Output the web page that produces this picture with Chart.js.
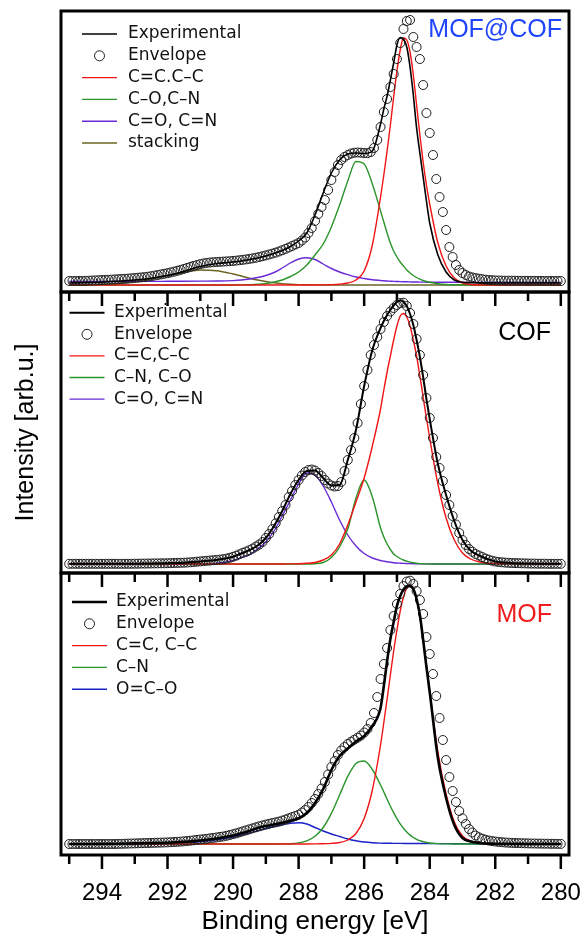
<!DOCTYPE html>
<html>
<head>
<meta charset="utf-8">
<script src="https://cdn.jsdelivr.net/npm/chart.js@4.4.0/dist/chart.umd.min.js"></script>
<style>
html, body { margin: 0; padding: 0; background: #fff; }
#wrap { position: relative; width: 584px; height: 937px; overflow: hidden; }
canvas { position: absolute; left: 0; }
</style>
</head>
<body>
<div id="wrap">
  <canvas id="c1" width="584" height="312" style="top:0px"></canvas>
  <canvas id="c2" width="584" height="313" style="top:280px"></canvas>
  <canvas id="c3" width="584" height="377" style="top:560px"></canvas>
</div>
<script>
// binding energies for the fitted curves (eV)
var lineE = [
  295, 294.5, 294, 293.5, 293, 292.5, 292, 291.5, 291, 290.5,
  290, 289.75, 289.5, 289.25, 289, 288.75, 288.5, 288.25, 288, 287.75,
  287.5, 287.25, 287, 286.75, 286.5, 286.25, 286, 285.75, 285.5, 285.4,
  285.3, 285.2, 285.1, 285, 284.9, 284.8, 284.7, 284.6, 284.5, 284.4,
  284.3, 284.2, 284.1, 284, 283.75, 283.5, 283.25, 283, 282.75, 282.5,
  282, 281.5, 281, 280.5, 280
];

// envelope is sampled every 0.1 eV from 295 down to 280
var envE = [];
for (var i = 0; i <= 150; i++) envE.push(Math.round((295 - i * 0.1) * 10) / 10);

var xTicks = [294, 292, 290, 288, 286, 284, 282, 280];

// ---- MOF@COF ----
var hybExp = [
  2, 2.3, 2.8, 3.8, 5, 6.8, 9.5, 13.5, 18.5, 21.5,
  23, 24, 25.5, 27, 29, 31.5, 34.5, 38.5, 44, 52,
  70, 92, 112, 125, 131, 132, 131.5, 134, 161, 176,
  189, 205, 222, 240, 247.5, 246, 238, 218, 190, 157,
  132, 108, 84, 62, 30, 13, 5, 2.8, 2.3, 2.1,
  2, 2, 2, 2, 2
];
var hybEnv = [
  4, 4, 4, 4, 4, 4.2, 4.3, 4.5, 4.6, 4.8,
  5, 5.1, 5.2, 5.4, 5.6, 5.8, 6, 6.2, 6.4, 6.7,
  7, 7.3, 7.6, 7.9, 8.3, 8.8, 9.4, 10, 10.6, 11.2,
  11.8, 12.6, 13.4, 14.2, 15.1, 16.1, 17.1, 18.1, 19.1, 20,
  20.9, 21.6, 22.1, 22.5, 22.8, 23, 23.2, 23.4, 23.6, 23.8,
  24.1, 24.4, 24.8, 25.2, 25.6, 26.1, 26.7, 27.3, 28, 28.8,
  29.6, 30.5, 31.4, 32.4, 33.5, 34.8, 36.1, 37.5, 39, 40.5,
  42, 44.5, 47.5, 52, 57, 64, 71, 78, 85, 95,
  105, 113, 120, 125, 128, 130, 131.5, 132.3, 132.5, 132.3,
  132, 131.8, 133, 137, 145, 158, 173, 186, 198, 211,
  226, 242, 256, 264, 265, 248, 238, 226, 200, 172,
  152, 130, 106, 88, 73, 55, 38, 28, 20, 15,
  12, 10, 8.5, 7.6, 6.9, 6.3, 5.8, 5.3, 5, 4.8,
  4.6, 4.5, 4.4, 4.3, 4.3, 4.3, 4.3, 4.2, 4.2, 4.2,
  4.2, 4.1, 4.1, 4.1, 4.1, 4, 4, 4, 4, 4,
  4
];
var hybCC = [
  0, 0, 0, 0, 0, 0, 0, 0, 0, 0,
  0, 0, 0, 0, 0, 0, 0, 0, 0, 0,
  0, 0.1, 0.3, 0.8, 2, 5, 14, 40, 88, 110,
  134, 160, 188, 214, 235, 247, 245, 233, 210, 180,
  150, 123, 100, 81, 42, 19, 7, 2, 0.5, 0,
  0, 0, 0, 0, 0
];
var hybCO = [
  0, 0, 0, 0, 0, 0, 0, 0, 0, 0,
  0, 0.1, 0.3, 0.7, 1.5, 3, 5, 8.5, 13, 20,
  30, 41, 58, 80, 104, 123.5, 121, 101, 74, 63,
  52, 42, 34, 28, 23, 19, 15, 12, 9.5, 7.5,
  5.8, 4.5, 3.5, 2.7, 1.3, 0.5, 0.2, 0, 0, 0,
  0, 0, 0, 0, 0
];
var hybCdO = [
  3.5, 3.5, 3.5, 3.5, 3.6, 3.6, 3.7, 3.8, 3.9, 4,
  4.4, 5, 6, 7.5, 9.5, 12.5, 17, 22, 26, 27.3,
  25.5, 21, 16.5, 13, 10.3, 8, 6.5, 5.3, 4.5, 4.2,
  4, 3.8, 3.6, 3.5, 3.4, 3.3, 3.2, 3.1, 3, 3,
  2.9, 2.9, 2.8, 2.8, 2.7, 2.7, 2.7, 2.6, 2.6, 2.6,
  2.6, 2.5, 2.5, 2.5, 2.5
];
var hybStack = [
  0, 0.2, 0.6, 1.5, 3.5, 6, 9.5, 12.5, 15, 14.2,
  11, 9, 6.8, 5, 3.5, 2.3, 1.4, 0.8, 0.4, 0.2,
  0.1, 0, 0, 0, 0, 0, 0, 0, 0, 0,
  0, 0, 0, 0, 0, 0, 0, 0, 0, 0,
  0, 0, 0, 0, 0, 0, 0, 0, 0, 0,
  0, 0, 0, 0, 0
];

// ---- COF ----
var cofExp = [
  0.2, 0.2, 0.2, 0.2, 0.3, 0.5, 0.8, 1.3, 2.6, 4.1,
  7.2, 10.5, 13.8, 18.5, 26, 38, 53, 70, 84, 93,
  93.5, 86, 78.5, 79, 104, 134, 178, 214, 236, 243,
  249, 254, 258.5, 262, 263.5, 262, 258, 250, 239, 224,
  207, 187, 165, 145, 100, 69, 43, 24, 13.5, 8.5,
  2.5, 1, 0.5, 0.3, 0.2
];
var cofEnv = [
  0.2, 0.2, 0.2, 0.2, 0.2, 0.2, 0.2, 0.2, 0.2, 0.2,
  0.2, 0.2, 0.2, 0.2, 0.2, 0.2, 0.2, 0.2, 0.2, 0.2,
  0.3, 0.3, 0.4, 0.4, 0.5, 0.5, 0.6, 0.6, 0.7, 0.7,
  0.8, 0.9, 1, 1.1, 1.2, 1.3, 1.5, 1.7, 2, 2.3,
  2.6, 2.9, 3.2, 3.5, 3.8, 4.1, 4.4, 4.8, 5.4, 6.2,
  7.2, 8.4, 9.8, 11.2, 12.5, 13.8, 15.5, 17.5, 19.5, 22,
  26, 30, 35, 40.7, 47, 53, 59, 67, 73, 79,
  84, 88.5, 92, 94, 94.5, 93.5, 91, 88, 84, 80.5,
  78.5, 77.5, 78, 82, 93, 104, 114, 126, 141, 160,
  178, 194, 209, 219, 227, 235, 242, 248, 252.5, 256,
  259, 261, 261.3, 258, 251, 240, 225, 209, 189, 166,
  146, 126, 107, 96, 83, 69, 59, 48, 39.5, 31,
  24, 19, 15, 12.3, 10, 8.5, 7, 5.5, 4.3, 3.3,
  2.5, 2, 1.7, 1.4, 1.2, 1, 0.9, 0.8, 0.7, 0.6,
  0.5, 0.4, 0.4, 0.3, 0.3, 0.3, 0.2, 0.2, 0.2, 0.2,
  0.2
];
var cofCC = [
  0, 0, 0, 0, 0, 0, 0, 0, 0, 0,
  0, 0, 0, 0, 0, 0, 0, 0.1, 0.3, 0.7,
  1.5, 4, 9, 20, 39, 62, 86, 118, 155, 174,
  192, 208, 224, 238, 248, 250.5, 247, 238, 224, 208,
  188, 167, 146, 126, 80, 46, 24, 11, 5, 2.2,
  0.5, 0.1, 0, 0, 0
];
var cofCN = [
  0, 0, 0, 0, 0, 0, 0, 0, 0, 0,
  0, 0, 0, 0, 0, 0, 0, 0, 0, 0,
  0.3, 1.5, 6.5, 17, 35, 66, 84, 67, 36, 27,
  20, 14.5, 10, 7.5, 5.5, 4, 2.8, 1.9, 1.2, 0.7,
  0.4, 0.2, 0.1, 0, 0, 0, 0, 0, 0, 0,
  0, 0, 0, 0, 0
];
var cofCdO = [
  0, 0, 0, 0, 0, 0, 0, 0, 0.2, 0.8,
  3.5, 6.5, 9, 15, 22, 33, 48, 64, 80, 91,
  89, 78, 62, 44, 29, 18, 10.5, 6, 3.5, 2.8,
  2.2, 1.7, 1.3, 1, 0.8, 0.6, 0.5, 0.4, 0.3, 0.2,
  0.2, 0.1, 0.1, 0.1, 0, 0, 0, 0, 0, 0,
  0, 0, 0, 0, 0
];

// ---- MOF ----
var mofExp = [
  0, 0, 0.1, 0.3, 0.6, 0.9, 1.3, 2.2, 3.5, 5.5,
  8.5, 10.7, 13, 16, 18, 19.5, 21.3, 23.3, 25.8, 31,
  41, 55, 74, 88, 95.5, 102.5, 108, 118, 136, 158,
  183, 205, 222, 238, 248, 254.5, 257.5, 258, 255, 245,
  229, 204, 177, 152, 86, 46, 19, 6, 2.5, 1,
  0.3, 0.1, 0, 0, 0
];
var mofEnv = [
  0, 0, 0, 0, 0, 0, 0, 0, 0, 0,
  0, 0, 0, 0, 0, 0.1, 0.2, 0.3, 0.4, 0.5,
  0.6, 0.7, 0.8, 0.9, 1, 1.1, 1.2, 1.3, 1.4, 1.5,
  1.6, 1.8, 2, 2.2, 2.4, 2.7, 3, 3.3, 3.7, 4.1,
  4.5, 4.8, 5.2, 5.7, 6.1, 6.6, 7.1, 7.5, 8.2, 9,
  9.8, 10.7, 11.7, 12.7, 13.7, 14.7, 15.7, 16.7, 17.7, 18.6,
  19.4, 20.2, 21, 21.7, 22.4, 23.4, 24.5, 25.7, 26.9, 28,
  29.3, 31.5, 34, 37, 41, 45, 50, 55.5, 62, 69.5,
  77, 83, 89, 93.5, 97, 100, 102.3, 104.3, 106.3, 108.5,
  111.5, 115, 121, 131, 147, 165, 180, 196, 214, 228,
  240, 250, 258, 262.5, 263.3, 260, 253, 244, 230, 207,
  190, 170, 148, 126, 104, 84, 67, 53, 42, 33,
  25.7, 20, 15, 11.5, 8.5, 6.7, 5.3, 4.3, 3.5, 2.9,
  2.5, 2.1, 1.8, 1.5, 1.3, 1.1, 1, 0.9, 0.8, 0.7,
  0.6, 0.5, 0.5, 0.4, 0.4, 0.3, 0.3, 0.2, 0.2, 0.1,
  0.1
];
var mofCC = [
  0, 0, 0, 0, 0, 0, 0, 0, 0, 0,
  0, 0, 0, 0, 0, 0, 0, 0, 0, 0,
  0.1, 0.3, 0.6, 1.5, 4, 10.5, 25.5, 54, 99, 121.5,
  145, 169, 193, 214, 233, 247, 256, 259, 255, 244,
  227, 204, 179, 152, 92, 50, 22, 8, 3, 1,
  0.3, 0, 0, 0, 0
];
var mofCN = [
  0, 0, 0, 0, 0, 0, 0, 0, 0, 0,
  0, 0, 0, 0, 0, 0, 0.1, 0.3, 1.1, 3.1,
  7.7, 16.5, 30.6, 49, 67.6, 80.5, 83, 74.5, 59, 52,
  44.8, 37.8, 31.3, 25.3, 20.1, 15.7, 11.9, 8.9, 6.5, 4.7,
  3.3, 2.2, 1.5, 1, 0.4, 0.1, 0, 0, 0, 0,
  0, 0, 0, 0, 0
];
var mofOCO = [
  0, 0, 0, 0, 0, 0, 0.3, 1, 2.3, 4.2,
  7, 9, 11, 13.3, 15.5, 17.5, 19.3, 20.8, 21.2, 20,
  16.5, 13, 10, 7.5, 5, 3.2, 2, 1.3, 0.9, 0.8,
  0.75, 0.7, 0.65, 0.6, 0.6, 0.55, 0.55, 0.5, 0.5, 0.5,
  0.45, 0.45, 0.4, 0.4, 0.4, 0.35, 0.3, 0.3, 0.3, 0.25,
  0.2, 0.2, 0.2, 0.2, 0.2
];

var RED = '#f01414', GREEN = '#2a942a', PURPLE = '#6a2ad6', OLIVE = '#6b6423', BLUE = '#1a22c8';
var SANS = '"Liberation Sans", Arial, sans-serif';

Chart.defaults.font.family = SANS;
Chart.defaults.color = '#000';

function pts(xs, ys) {
  return xs.map(function (x, i) { return { x: x, y: ys[i] }; });
}

function curve(label, ys, color, width) {
  return {
    label: label,
    data: pts(lineE, ys),
    borderColor: color,
    borderWidth: width,
    pointRadius: 0,
    fill: false,
    cubicInterpolationMode: 'monotone'
  };
}

function envelope(ys) {
  return {
    label: 'Envelope',
    data: pts(envE, ys),
    showLine: false,
    pointRadius: 4.5,
    pointBorderWidth: 1,
    pointBorderColor: '#1e1e1e',
    pointBackgroundColor: 'rgba(255,255,255,0)'
  };
}

// frame, tick marks, panel name and the legend inside the plot box
var panelDecor = {
  id: 'panelDecor',
  afterDatasetsDraw: function (chart, args, o) {
    var ctx = chart.ctx, a = chart.chartArea, xs = chart.scales.x;
    ctx.save();
    ctx.strokeStyle = '#000';
    ctx.lineWidth = 3;
    ctx.strokeRect(a.left, a.top, a.right - a.left, a.bottom - a.top);

    ctx.lineWidth = 2.5;
    ctx.beginPath();
    for (var v = 280; v <= 295; v++) {
      var px = xs.getPixelForValue(v);
      ctx.moveTo(px, a.bottom);
      ctx.lineTo(px, a.bottom + (v % 2 === 0 ? 14 : 9));
    }
    ctx.stroke();

    ctx.font = '25px ' + SANS;
    ctx.fillStyle = o.nameColor;
    ctx.textAlign = 'right';
    ctx.textBaseline = 'alphabetic';
    ctx.fillText(o.name, a.right + o.nameDx, a.top + o.nameDy);

    ctx.font = '17px "DejaVu Sans", sans-serif';
    ctx.textAlign = 'left';
    ctx.textBaseline = 'middle';
    chart.data.datasets.forEach(function (ds, i) {
      var y = a.top + o.legTop + i * o.legStep;
      var x0 = a.left + o.legLeft;
      ctx.beginPath();
      if (ds.showLine === false) {
        ctx.lineWidth = 1;
        ctx.strokeStyle = ds.pointBorderColor;
        ctx.arc(x0 + 17.5, y, 5, 0, Math.PI * 2);
      } else {
        ctx.lineWidth = ds.borderWidth;
        ctx.strokeStyle = ds.borderColor;
        ctx.moveTo(x0, y);
        ctx.lineTo(x0 + 35, y);
      }
      ctx.stroke();
      ctx.fillStyle = '#111';
      ctx.fillText(ds.label, x0 + o.textGap, y);
    });
    ctx.restore();
  }
};

function panel(id, datasets, yMin, yMax, pad, deco, xAxis, yAxis) {
  return new Chart(document.getElementById(id), {
    type: 'line',
    data: { datasets: datasets },
    plugins: [panelDecor],
    options: {
      responsive: false,
      animation: false,
      devicePixelRatio: 1,
      events: [],
      layout: { padding: pad },
      plugins: { legend: { display: false }, tooltip: { enabled: false }, panelDecor: deco },
      scales: {
        x: Object.assign({
          type: 'linear', min: 279.75, max: 295.25, reverse: true, display: false
        }, xAxis || {}),
        y: Object.assign({ min: yMin, max: yMax, display: false }, yAxis || {})
      }
    }
  });
}

panel('c1', [
  curve('Experimental', hybExp, '#000', 1.6),
  envelope(hybEnv),
  curve('C=C.C–C', hybCC, RED, 1.4),
  curve('C–O,C–N', hybCO, GREEN, 1.4),
  curve('C=O, C=N', hybCdO, PURPLE, 1.4),
  curve('stacking', hybStack, OLIVE, 1.4)
], -7, 274, { left: 61, right: 15, top: 11, bottom: 20 }, {
  name: 'MOF@COF', nameColor: '#1f45ff', nameDx: -7, nameDy: 26,
  legLeft: 21, legTop: 23, legStep: 21.8, textGap: 46
});

panel('c2', [
  curve('Experimental', cofExp, '#000', 2),
  envelope(cofEnv),
  curve('C=C,C–C', cofCC, RED, 1.4),
  curve('C–N, C–O', cofCN, GREEN, 1.4),
  curve('C=O, C=N', cofCdO, PURPLE, 1.4)
], -9, 272, { left: 11, right: 15, top: 12, bottom: 20 }, {
  name: 'COF', nameColor: '#000', nameDx: -18, nameDy: 48,
  legLeft: 8.5, legTop: 20.7, legStep: 21.6, textGap: 44.5
}, null, {
  display: true,
  ticks: { display: false },
  grid: { display: false, drawTicks: false },
  border: { display: false },
  title: { display: true, text: 'Intensity [arb.u.]', font: { size: 25 }, padding: { top: 0, bottom: 20 } }
});

panel('c3', [
  curve('Experimental', mofExp, '#000', 2.6),
  envelope(mofEnv),
  curve('C=C, C–C', mofCC, RED, 1.4),
  curve('C–N', mofCN, GREEN, 1.4),
  curve('O=C–O', mofOCO, BLUE, 1.4)
], -11, 271, { left: 61, right: 15, top: 13, bottom: 0 }, {
  name: 'MOF', nameColor: '#ee1c1c', nameDx: -17, nameDy: 49,
  legLeft: 11, legTop: 29, legStep: 21.8, textGap: 44
}, {
  display: true,
  grid: { display: false, drawTicks: false },
  border: { display: false },
  afterBuildTicks: function (scale) {
    scale.ticks = xTicks.map(function (v) { return { value: v }; });
  },
  // keep the plot box the same width as the panels above
  afterFit: function (scale) {
    scale.paddingLeft = 0;
    scale.paddingRight = 0;
  },
  ticks: { font: { size: 24 }, padding: 24, autoSkip: false, maxRotation: 0 },
  title: { display: true, text: 'Binding energy [eV]', font: { size: 26 }, padding: { top: -26, bottom: 0 } }
});
</script>
</body>
</html>
